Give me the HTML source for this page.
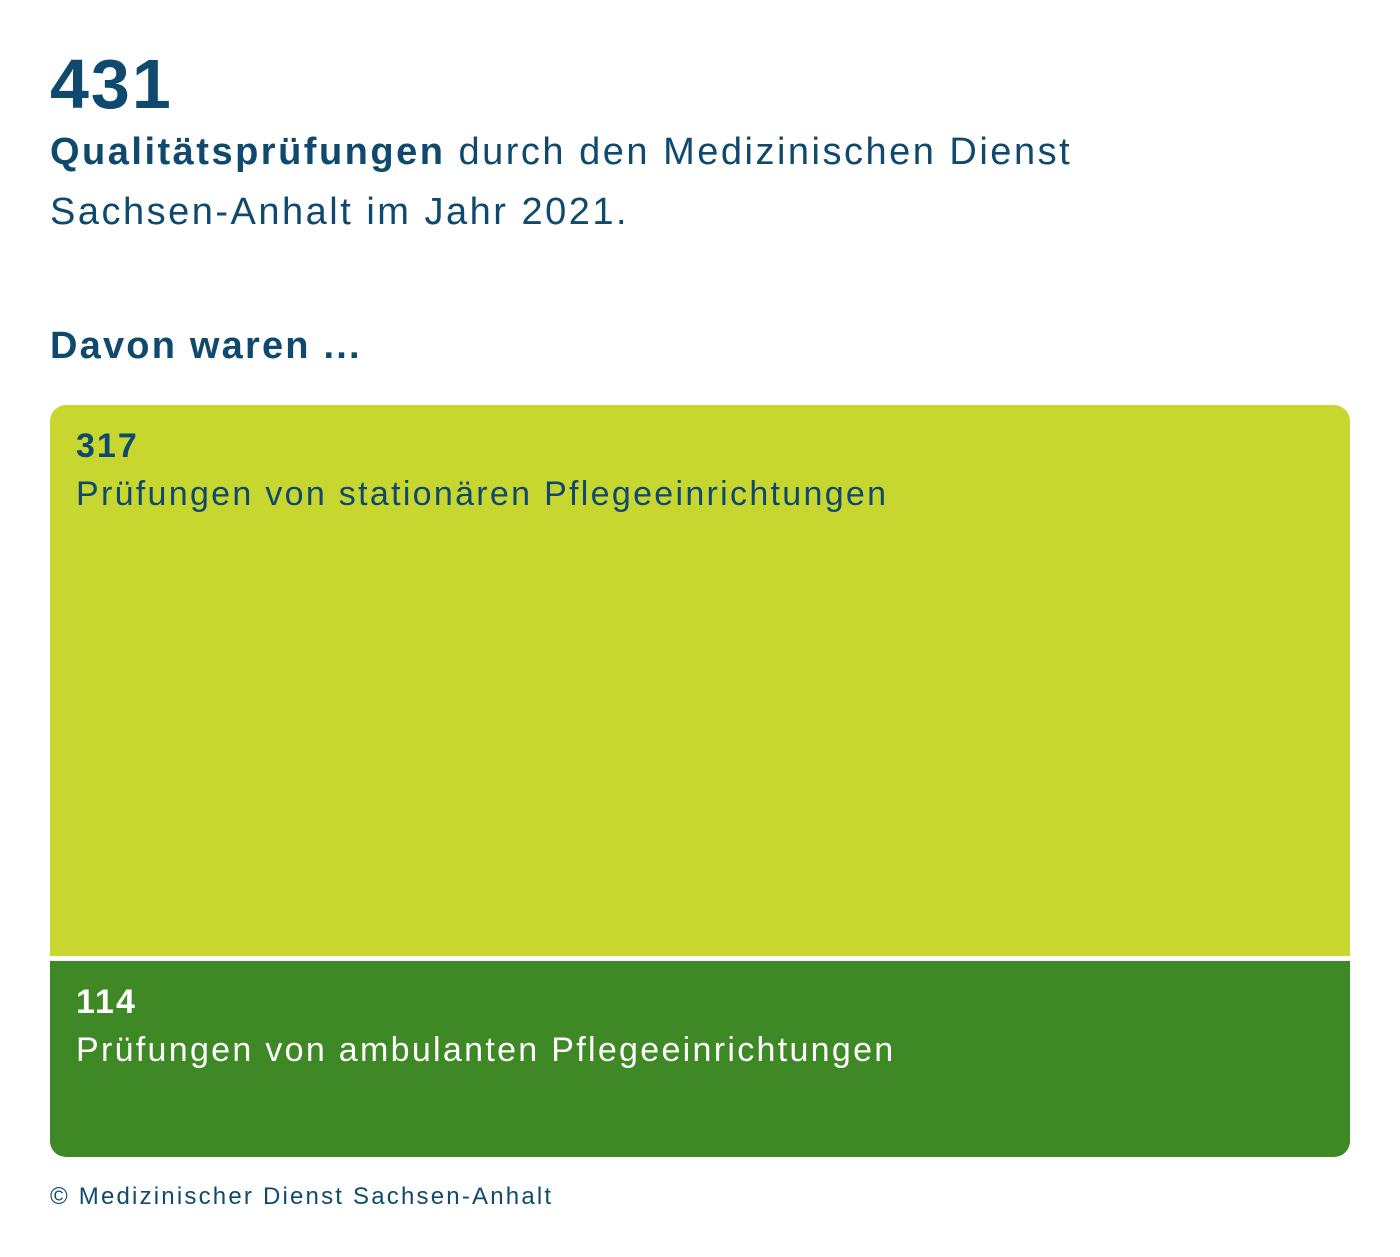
<!DOCTYPE html>
<html><head><meta charset="utf-8"><style>
html,body{margin:0;padding:0;background:#fff;width:1400px;height:1257px;overflow:hidden;font-family:"Liberation Sans",sans-serif;color:#0f4a6e}
.t{position:absolute;left:50px;white-space:nowrap}
#chart{position:absolute;left:50px;top:405px;width:1300px;height:752px;border-radius:16px;overflow:hidden;background:#fff}
.seg{position:absolute;left:0;width:1300px}
.num{position:absolute;left:26px;font-weight:bold;font-size:34px;letter-spacing:2px}
.lab{position:absolute;left:26px;font-size:34px;white-space:nowrap;letter-spacing:2.3px}
</style></head><body>
<div class="t" style="top:46px;font-size:70px;font-weight:bold;line-height:76px;letter-spacing:2px">431</div>
<div class="t" style="top:122px;font-size:38px;line-height:60px;letter-spacing:2.5px"><b>Qualitätsprüfungen</b> durch den Medizinischen Dienst<br>Sachsen-Anhalt im Jahr 2021.</div>
<div class="t" style="top:322px;font-size:38px;font-weight:bold;line-height:48px;letter-spacing:2.2px">Davon waren ...</div>
<div id="chart"></div>
<div class="t" style="top:1181px;font-size:24px;line-height:32px;letter-spacing:2.2px">© Medizinischer Dienst Sachsen-Anhalt</div>
<script>
const categories=["Prüfungen von stationären Pflegeeinrichtungen","Prüfungen von ambulanten Pflegeeinrichtungen"];
const values=[317,114];
const colors=["#c8d630","#3e8826"];
const textColors=["#0f4a6e","#ffffff"];
const chart=document.getElementById('chart');
const H=752,gap=5;
const total=values.reduce((a,b)=>a+b,0);
let y=0;
values.forEach((v,i)=>{
  const h=v/total*H;
  const seg=document.createElement('div');
  
  
  seg.className='seg';
  const top=i===0?0:y+gap/2;
  const bh=h-gap/2;
  seg.style.top=top+'px';seg.style.height=bh+'px';seg.style.background=colors[i];seg.style.color=textColors[i];
  const n=document.createElement('div');
  
  
  n.className='num';n.style.top='22px';n.textContent=v;
  const l=document.createElement('div');
  
  
  l.className='lab';l.style.top='70px';l.textContent=categories[i];
  seg.appendChild(n);seg.appendChild(l);chart.appendChild(seg);
  y+=h;
});
</script>
</body></html>
